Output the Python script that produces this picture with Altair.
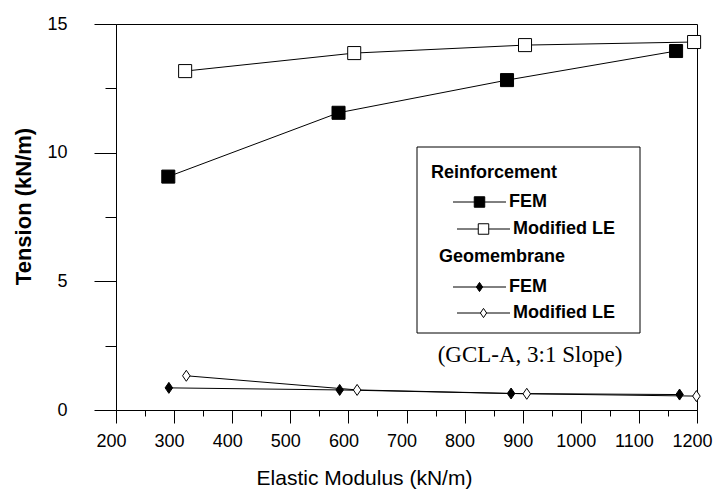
import altair as alt
import pandas as pd

# Elastic modulus of the reinforcement (kN/m) and resulting tensions (kN/m)
reinf_fem_x = [290, 583, 873, 1164]
reinf_fem_y = [9.07, 11.55, 12.82, 13.95]
reinf_le_x = [319, 610, 904, 1195]
reinf_le_y = [13.17, 13.87, 14.18, 14.30]
geom_fem_x = [291, 585, 880, 1170]
geom_fem_y = [0.86, 0.78, 0.64, 0.60]
geom_le_x = [321, 615, 907, 1199]
geom_le_y = [1.33, 0.78, 0.63, 0.54]

x_major = list(range(200, 1201, 100))
x_minor = list(range(250, 1200, 100))
y_major = [0, 5, 10, 15]
y_minor = [2.5, 7.5, 12.5]

W, H = 581, 386
FONT = "Liberation Sans"
DIAMOND = "M0,-1.1L0.75,0L0,1.1L-0.75,0Z"

series = [
    ("Reinforcement FEM", reinf_fem_x, reinf_fem_y, "square", "black", 170),
    ("Reinforcement Modified LE", reinf_le_x, reinf_le_y, "square", "white", 170),
    ("Geomembrane FEM", geom_fem_x, geom_fem_y, DIAMOND, "black", 100),
    ("Geomembrane Modified LE", geom_le_x, geom_le_y, DIAMOND, "white", 100),
]

x_scale = alt.Scale(domain=[200, 1200], nice=False, zero=False)
y_scale = alt.Scale(domain=[0, 15], nice=False)

x_axis = alt.Axis(
    orient="bottom", values=x_major, format="d", labelOverlap=False, labelFlush=False,
    tickSize=13, labelPadding=9, labelOffset=-5,
    labelFont=FONT, labelFontSize=18, labelColor="black",
    domainColor="black", tickColor="black", grid=False,
    title="Elastic Modulus (kN/m)", titleFont=FONT, titleFontSize=21,
    titleFontWeight="normal", titleColor="black",
    titleX=248, titleY=68, titleBaseline="middle",
)
y_axis = alt.Axis(
    orient="left", values=y_major, format="d", labelOverlap=False, labelFlush=False,
    tickSize=22, labelPadding=27,
    labelFont=FONT, labelFontSize=18, labelColor="black",
    domainColor="black", tickColor="black", grid=False,
    title="Tension  (kN/m)", titleFont=FONT, titleFontSize=22,
    titleFontWeight="bold", titleColor="black",
    titleX=-93, titleY=182, titleBaseline="middle", titleAngle=270,
)
x_minor_axis = alt.Axis(
    orient="bottom", values=x_minor, labels=False, domain=False, grid=False,
    tickSize=6, tickColor="black", title="",
)
y_minor_axis = alt.Axis(
    orient="left", values=y_minor, labels=False, domain=False, grid=False,
    tickSize=11, tickColor="black", title="",
)

layers = []
for i, (name, xs, ys, shape, fill, size) in enumerate(series):
    df = pd.DataFrame({"E": xs, "T": ys})
    if i == 0:
        line_axes = (x_axis, y_axis)
        point_axes = (x_minor_axis, y_minor_axis)
    else:
        line_axes = point_axes = (None, None)
    base = alt.Chart(df)
    layers.append(
        base.mark_line(color="black", strokeWidth=1).encode(
            x=alt.X("E:Q", scale=x_scale, axis=line_axes[0]),
            y=alt.Y("T:Q", scale=y_scale, axis=line_axes[1]),
        )
    )
    layers.append(
        base.mark_point(shape=shape, filled=True, fill=fill, stroke="black",
                        strokeWidth=1, size=size, opacity=1).encode(
            x=alt.X("E:Q", scale=x_scale, axis=point_axes[0]),
            y=alt.Y("T:Q", scale=y_scale, axis=point_axes[1]),
        )
    )

# Legend box with grouped entries
one = pd.DataFrame({"k": [0]})
layers.append(
    alt.Chart(one).mark_rect(fill="white", stroke="black", strokeWidth=1).encode(
        x=alt.value(301), x2=alt.value(524), y=alt.value(123), y2=alt.value(309)
    )
)
headers = [("Reinforcement", 315, 149), ("Geomembrane", 323, 233)]
for text, hx, hy in headers:
    layers.append(
        alt.Chart(one).mark_text(text=text, font=FONT, fontSize=18, fontWeight="bold",
                                 align="left", baseline="middle", color="black").encode(
            x=alt.value(hx), y=alt.value(hy)
        )
    )
entries = [
    ("FEM", 178, "square", "black", 110),
    ("Modified LE", 205, "square", "white", 110),
    ("FEM", 263, DIAMOND, "black", 70),
    ("Modified LE", 289, DIAMOND, "white", 70),
]
for text, ey, shape, fill, size in entries:
    x0, x1 = (337, 390) if text == "FEM" else (341, 394)
    xm = (x0 + x1) / 2
    layers.append(
        alt.Chart(one).mark_rule(color="black", strokeWidth=1).encode(
            x=alt.value(x0), x2=alt.value(x1), y=alt.value(ey)
        )
    )
    layers.append(
        alt.Chart(one).mark_point(shape=shape, filled=True, fill=fill, stroke="black",
                                  strokeWidth=1, size=size, opacity=1).encode(
            x=alt.value(xm), y=alt.value(ey)
        )
    )
    layers.append(
        alt.Chart(one).mark_text(text=text, font=FONT, fontSize=18, fontWeight="bold",
                                 align="left", baseline="middle", color="black").encode(
            x=alt.value(x1 + 3), y=alt.value(ey)
        )
    )
layers.append(
    alt.Chart(one).mark_text(text="(GCL-A, 3:1 Slope)", font="Liberation Serif",
                             fontSize=23, align="center", baseline="middle",
                             color="black").encode(x=alt.value(414), y=alt.value(331))
)

chart = (
    alt.layer(*layers)
    .resolve_axis(x="independent", y="independent")
    .properties(
        width=W, height=H,
        autosize=alt.AutoSizeParams(type="none"),
        padding={"left": 116, "top": 24, "right": 18, "bottom": 82},
        background="white",
    )
    .configure_view(stroke="black", strokeWidth=1)
)

chart.save("out.html", embed_options={"renderer": "svg", "actions": False})
